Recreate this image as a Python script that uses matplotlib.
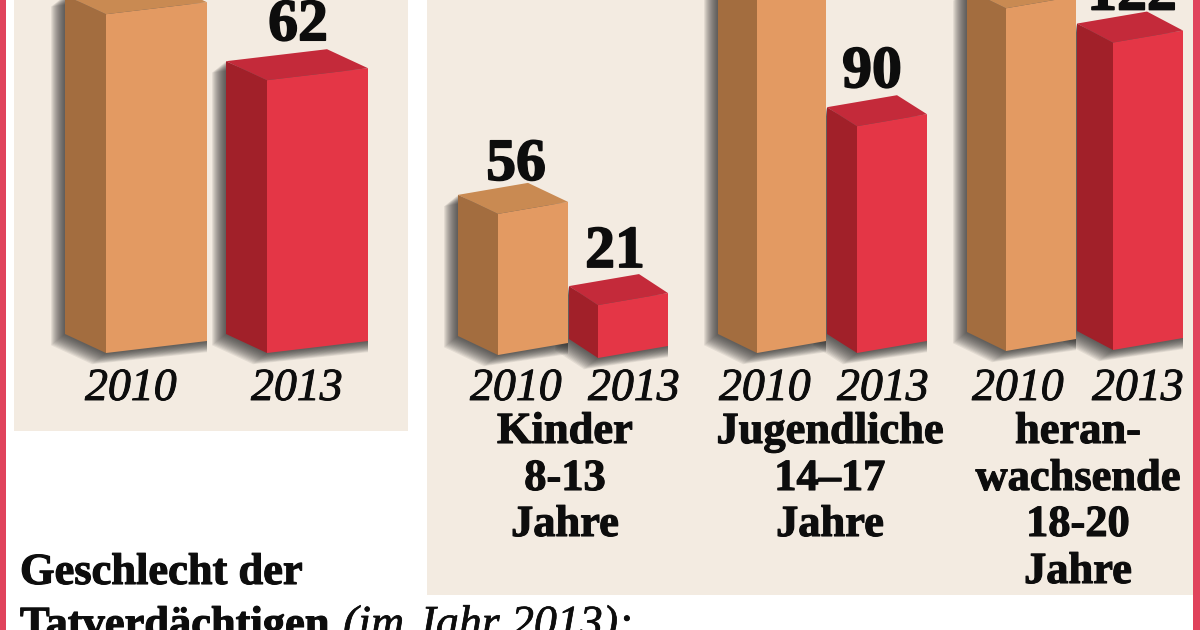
import matplotlib
matplotlib.use("Agg")
from matplotlib import pyplot as plt
from matplotlib.patches import Polygon, Rectangle
import matplotlib.patheffects as pe

plt.rcParams['font.family'] = ['Liberation Serif', 'DejaVu Serif']

# values; the ones without a label are cut off at the top
years = ['2010', '2013']
total_values = [77, 62]
kinder_values = [56, 21]
jugend_values = [150, 90]
heran_values = [136, 122]
total_labels = [None, '62']
kinder_labels = ['56', '21']
jugend_labels = [None, '90']
heran_labels = [None, '122']
kinder_text = ['Kinder', '8-13', 'Jahre']
jugend_text = ['Jugendliche', '14–17', 'Jahre']
heran_text = ['heran-', 'wachsende', '18-20', 'Jahre']

W, H = 1200, 630
BASE = 353
TOTAL_SCALE = 4.4
AGE_SCALE = 2.52

ORANGE = ('#e39a62', '#a36d3f', '#c98a52')
RED = ('#e43646', '#a12029', '#c42a3a')
PANEL = '#f3ebe1'
BORDER = '#e0435c'
INK = '#0d0d0d'

fig = plt.figure(figsize=(12, 6.3), dpi=100, facecolor='white')


def make_axes(scale=None):
    ax = fig.add_axes([0, 0, 1, 1])
    ax.set_xlim(0, W)
    if scale is None:
        ax.set_ylim(H, 0)
    else:
        # value 0 sits on the floor line of the bars
        ax.set_ylim(-(H - BASE) / scale, BASE / scale)
    ax.axis('off')
    ax.patch.set_alpha(0)
    return ax


def draw_bar(ax, scale, spot, value, colors, label, year):
    left, corner, right, year_x, label_x, gap, drop = spot
    front, side, top = colors
    rise_r = 12 / scale
    rise_l = 19 / scale
    y0 = -drop / scale
    y1 = value + y0

    # soft shadow to the left and below
    outline = [(left, y0 + rise_l), (corner, y0), (right, y0 + rise_r), (right, y1 + rise_r),
               (left + right - corner, y1 + rise_r + rise_l), (left, y1 + rise_l)]
    for k in range(1, 15):
        shifted = []
        for x, y in outline:
            shifted.append((x - k if x < right else x, y - k * 0.8 / scale))
        ax.add_patch(Polygon(shifted, closed=True, fc='#2e2e2e', ec='none', alpha=0.085, zorder=2))

    ax.add_patch(Polygon([(corner, y0), (right, y0 + rise_r), (right, y1 + rise_r), (corner, y1)],
                         closed=True, fc=front, ec='none', zorder=3))
    ax.add_patch(Polygon([(left, y0 + rise_l), (corner, y0), (corner, y1), (left, y1 + rise_l)],
                         closed=True, fc=side, ec='none', zorder=3))
    ax.add_patch(Polygon([(left, y1 + rise_l), (corner, y1), (right, y1 + rise_r),
                          (left + right - corner, y1 + rise_l + rise_r)],
                         closed=True, fc=top, ec='none', zorder=3))

    ax.text(year_x, -47 / scale, year, fontsize=33, style='italic', ha='center', va='baseline',
            color=INK, zorder=5, path_effects=[pe.withStroke(linewidth=0.7, foreground=INK)])
    if label:
        ax.text(label_x, y1 + gap / scale, label, fontsize=43, fontweight='bold',
                ha='center', va='baseline', color=INK, zorder=5,
                path_effects=[pe.withStroke(linewidth=1.2, foreground=INK)])


back = make_axes()
back.add_patch(Rectangle((14, 0), 394, 431, fc=PANEL, ec='none'))
back.add_patch(Rectangle((427, 0), 766, 595, fc=PANEL, ec='none'))
back.add_patch(Rectangle((0, 0), 6, H, fc=BORDER, ec='none'))
back.add_patch(Rectangle((1193, 0), 7, H, fc=BORDER, ec='none'))

ax_total = make_axes(TOTAL_SCALE)
ax_age = make_axes(AGE_SCALE)

# left edge, front corner, right edge, year label x, value label x, label gap, floor drop (pixels)
groups = [
    (ax_total, TOTAL_SCALE, total_values, total_labels,
     [(65, 106, 207, 131, 136, 40, 0), (226, 267, 368, 297, 298, 40, 0)]),
    (ax_age, AGE_SCALE, kinder_values, kinder_labels,
     [(458, 498, 568, 516, 516, 34, 2), (569, 598, 668, 634, 615, 38, 5)]),
    (ax_age, AGE_SCALE, jugend_values, jugend_labels,
     [(718, 757, 826, 765, 772, 39, 0), (827, 857, 927, 883, 872, 39, 0)]),
    (ax_age, AGE_SCALE, heran_values, heran_labels,
     [(967, 1006, 1076, 1018, 1020, 33, -2), (1077, 1113, 1183, 1138, 1132, 33, -3)]),
]
for ax, scale, values, labels, spots in groups:
    for i, value in enumerate(values):
        draw_bar(ax, scale, spots[i], value, (ORANGE, RED)[i], labels[i], years[i])

front = make_axes()
stroke = [pe.withStroke(linewidth=0.8, foreground=INK)]
line_y = [443, 490, 536, 583]
for lines, cx in [(kinder_text, 565), (jugend_text, 830), (heran_text, 1078)]:
    for n, line in enumerate(lines):
        front.text(cx, line_y[n], line, fontsize=32, fontweight='bold', ha='center', va='baseline',
                   color=INK, path_effects=stroke)

front.text(20, 584, 'Geschlecht der', fontsize=32, fontweight='bold', va='baseline',
           color=INK, path_effects=stroke)
front.text(20, 637, 'Tatverdächtigen', fontsize=32, fontweight='bold', va='baseline',
           color=INK, path_effects=stroke)
front.text(343, 637, '(im Jahr 2013):', fontsize=33, style='italic', va='baseline', color=INK,
           path_effects=[pe.withStroke(linewidth=0.5, foreground=INK)])

fig.savefig('out.png', dpi=100)
